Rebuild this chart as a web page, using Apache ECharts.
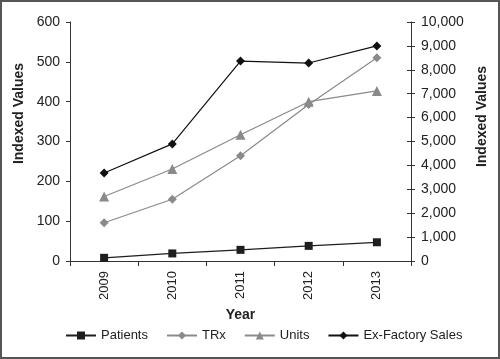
<!DOCTYPE html>
<html><head><meta charset="utf-8">
<script src="https://cdn.jsdelivr.net/npm/echarts@6/dist/echarts.min.js"></script>
<style>html,body{margin:0;padding:0;background:#fff}#c{width:500px;height:359px;box-sizing:border-box;border:2px solid #555}</style>
</head><body><div id="c"></div>
<script>
const years = ['2009','2010','2011','2012','2013'];
const patients = [8, 19, 28, 38, 47];
const trx = [96, 155, 264, 393, 510];
const units = [162, 231, 317, 400, 427];
const exFactory = [221, 294, 502, 497, 540];
const leftTicks = [0, 600, 100];
const rightTicks = [0, 10000, 1000];

const chart = echarts.init(document.getElementById('c'));
const font = 'Liberation Sans, Arial, sans-serif';
const axisLine = {show: true, lineStyle: {color: '#333', width: 1}};
function mk(name, data, symbol, size, color, lineColor) {
  return {name, type: 'line', data, yAxisIndex: 0, symbol, symbolSize: size,
    itemStyle: {color, borderWidth: 0}, lineStyle: {color: lineColor, width: 1.2}, animation: false};
}
chart.setOption({
  animation: false,
  textStyle: {fontFamily: font},
  grid: {left: 68, right: 87, top: 20, bottom: 96},
  legend: {bottom: 10, left: 58, itemWidth: 30, itemHeight: 10, itemGap: 18,
    textStyle: {fontSize: 13, color: '#222', fontFamily: font},
    data: ['Patients', 'TRx', 'Units', 'Ex-Factory Sales']},
  xAxis: {type: 'category', data: years, name: 'Year', nameLocation: 'middle', nameGap: 47,
    nameTextStyle: {fontWeight: 'bold', fontSize: 14, color: '#222'},
    axisLine, axisTick: {show: true, alignWithLabel: false, length: 5, lineStyle: {color: '#333'}},
    axisLabel: {rotate: 90, fontSize: 13, color: '#222', margin: 10}},
  yAxis: [
    {type: 'value', min: leftTicks[0], max: leftTicks[1], interval: leftTicks[2], position: 'left',
      name: 'Indexed Values', nameLocation: 'middle', nameGap: 42, nameRotate: 90,
      nameTextStyle: {fontWeight: 'bold', fontSize: 14, color: '#222', padding: [0, 0, 0, 56]},
      axisLine, axisTick: {show: true, length: 4, lineStyle: {color: '#333'}},
      axisLabel: {fontSize: 14, color: '#222', margin: 10}, splitLine: {show: false}},
    {type: 'value', min: rightTicks[0], max: rightTicks[1], interval: rightTicks[2], position: 'right',
      name: 'Indexed Values', nameLocation: 'middle', nameGap: 61, nameRotate: 90,
      nameTextStyle: {fontWeight: 'bold', fontSize: 14, color: '#222', padding: [0, 0, 0, 50]},
      axisLine, axisTick: {show: true, length: 4, lineStyle: {color: '#333'}},
      axisLabel: {fontSize: 14, color: '#222', margin: 10,
        formatter: v => v.toLocaleString('en-US')}, splitLine: {show: false}},
    {type: 'value', min: rightTicks[0], max: rightTicks[1], interval: rightTicks[2], position: 'right',
      axisLine: {show: false}, axisTick: {show: true, inside: true, length: 4, lineStyle: {color: '#333'}},
      axisLabel: {show: false}, splitLine: {show: false}}
  ],
  series: [
    mk('Patients', patients, 'rect', 8, '#1e1e1e', '#1e1e1e'),
    mk('TRx', trx, 'diamond', 9, '#8a8a8a', '#8a8a8a'),
    mk('Units', units, 'triangle', 10, '#8a8a8a', '#8a8a8a'),
    mk('Ex-Factory Sales', exFactory, 'diamond', 9, '#111', '#111')
  ]
});
</script></body></html>
